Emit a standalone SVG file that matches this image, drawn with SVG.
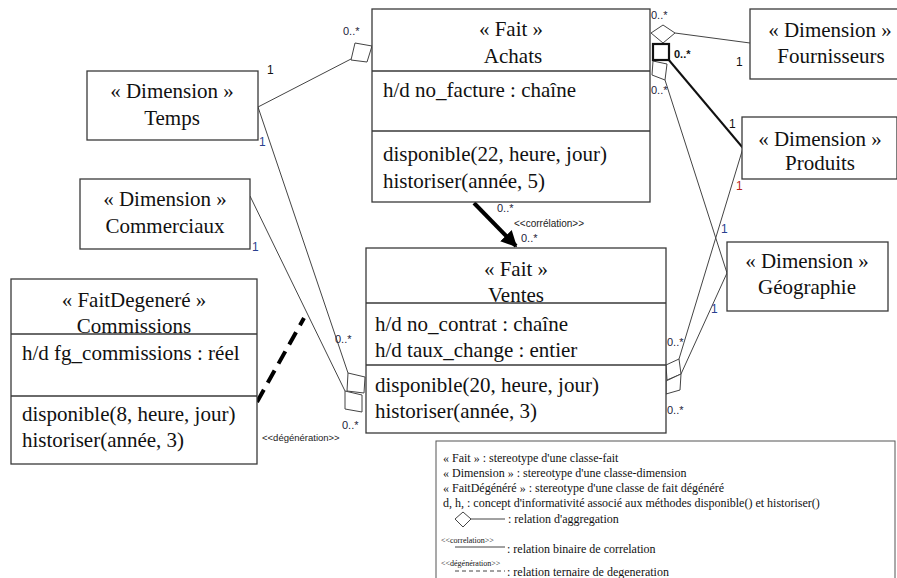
<svg xmlns="http://www.w3.org/2000/svg" width="897" height="578" viewBox="0 0 897 578">
<defs>
<style>
.box{fill:#fff;stroke:#3a3a3a;stroke-width:1.3}
.sep{stroke:#3a3a3a;stroke-width:1.3;fill:none}
.ln{stroke:#444;stroke-width:1;fill:none}
.dia{fill:#fff;stroke:#444;stroke-width:1}
</style>
<marker id="arr" viewBox="0 0 10 10" refX="9" refY="5" markerWidth="4" markerHeight="4" orient="auto" markerUnits="strokeWidth">
<path d="M0,0 L10,5 L0,10 z" fill="#000"/>
</marker>
</defs>
<rect width="897" height="578" fill="#fff"/>

<g id="connectors">
<line class="ln" x1="258" y1="107" x2="351" y2="59"/>
<line class="ln" x1="258" y1="107" x2="348" y2="373"/>
<line class="ln" x1="250" y1="196" x2="345" y2="391"/>
<line class="ln" x1="675" y1="33" x2="750" y2="43"/>
<line class="ln" x1="665" y1="80" x2="727" y2="273"/>
<line class="ln" x1="743" y1="148" x2="679" y2="359"/>
<line class="ln" x1="727" y1="273" x2="681" y2="374"/>
<polygon class="dia" points="351,60 355,43 372,46 367,62"/>
<polygon class="dia" points="348,373 365,377 364,393 347,391"/>
<polygon class="dia" points="345,391 362,395 362,412 345,409"/>
<polygon class="dia" points="651,33 663,25 675,33 663,43"/>
<polygon class="dia" points="653,61 667,64 665,80 652,75"/>
<polygon class="dia" points="666,365 679,359 681,374 667,380"/>
<polygon class="dia" points="666,381 681,374 680,390 666,394"/>
<line x1="668" y1="59" x2="743" y2="148" stroke="#111" stroke-width="2"/>
<rect x="653" y="44" width="16" height="16" fill="#fff" stroke="#111" stroke-width="2.2"/>
<line x1="474" y1="203" x2="516" y2="246" stroke="#000" stroke-width="4" marker-end="url(#arr)"/>
<line x1="257" y1="402" x2="304" y2="318" stroke="#000" stroke-width="4" stroke-dasharray="14,8"/>

<g font-family="Liberation Sans" font-size="11" fill="#22223a">
<text x="343" y="35">0..*</text>
<text x="335" y="343">0..*</text>
<text x="342" y="429">0..*</text>
<text x="651" y="19">0..*</text>
<text x="674" y="58" font-weight="bold" fill="#111">0..*</text>
<text x="651" y="94">0..*</text>
<text x="667" y="346">0..*</text>
<text x="667" y="414">0..*</text>
<text x="497" y="212">0..*</text>
<text x="521" y="242">0..*</text>
<text x="262" y="441" font-size="9.5" fill="#222">&lt;&lt;dégénération&gt;&gt;</text>
<text x="514" y="227" font-size="10" fill="#222">&lt;&lt;corrélation&gt;&gt;</text>
</g>
<g font-family="Liberation Sans" font-size="12" fill="#111">
<text x="267" y="74">1</text>
<text x="259" y="146" fill="#2a3f8f">1</text>
<text x="252" y="251" fill="#2a3f8f">1</text>
<text x="736" y="66">1</text>
<text x="729" y="128">1</text>
<text x="736" y="190" fill="#b8261b">1</text>
<text x="721" y="233" fill="#2a3f8f">1</text>
<text x="711" y="313" fill="#2a3f8f">1</text>
</g>
</g>

<g id="achats" font-family="Liberation Serif" font-size="21" fill="#111">
<rect class="box" x="372" y="9" width="278" height="193"/>
<path class="sep" d="M372,71H650M372,131H650"/>
<text x="511" y="36" text-anchor="middle">« Fait »</text>
<text x="513" y="63" text-anchor="middle">Achats</text>
<text x="383" y="97">h/d no_facture : chaîne</text>
<text x="383" y="161">disponible(22, heure, jour)</text>
<text x="383" y="188">historiser(année, 5)</text>
</g>

<g id="ventes" font-family="Liberation Serif" font-size="21" fill="#111">
<rect class="box" x="366" y="248" width="300" height="185"/>
<path class="sep" d="M366,303H666M366,365H666"/>
<text x="516" y="276" text-anchor="middle">« Fait »</text>
<text x="516" y="302" text-anchor="middle">Ventes</text>
<text x="375" y="331">h/d no_contrat : chaîne</text>
<text x="375" y="357">h/d taux_change : entier</text>
<text x="375" y="392">disponible(20, heure, jour)</text>
<text x="375" y="418">historiser(année, 3)</text>
</g>

<g id="temps" font-family="Liberation Serif" font-size="21" fill="#111" text-anchor="middle">
<rect class="box" x="87" y="71" width="171" height="69"/>
<text x="172" y="98">« Dimension »</text>
<text x="172" y="125">Temps</text>
</g>

<g id="commerciaux" font-family="Liberation Serif" font-size="21" fill="#111" text-anchor="middle">
<rect class="box" x="80" y="179" width="170" height="70"/>
<text x="165" y="206">« Dimension »</text>
<text x="165" y="233">Commerciaux</text>
</g>

<g id="commissions" font-family="Liberation Serif" font-size="21" fill="#111">
<rect class="box" x="11" y="279" width="246" height="185"/>
<path class="sep" d="M11,334H257M11,396H257"/>
<text x="134" y="307" text-anchor="middle">« FaitDegeneré »</text>
<text x="134" y="333" text-anchor="middle">Commissions</text>
<text x="22" y="360">h/d fg_commissions : réel</text>
<text x="22" y="421">disponible(8, heure, jour)</text>
<text x="22" y="447">historiser(année, 3)</text>
</g>

<g id="fournisseurs" font-family="Liberation Serif" font-size="21" fill="#111" text-anchor="middle">
<rect class="box" x="750" y="9" width="162" height="70"/>
<text x="830" y="37">« Dimension »</text>
<text x="831" y="63">Fournisseurs</text>
</g>

<g id="produits" font-family="Liberation Serif" font-size="21" fill="#111" text-anchor="middle">
<rect class="box" x="742" y="117" width="155" height="62"/>
<text x="820" y="146">« Dimension »</text>
<text x="820" y="170">Produits</text>
</g>

<g id="geographie" font-family="Liberation Serif" font-size="21" fill="#111" text-anchor="middle">
<rect class="box" x="727" y="242" width="161" height="69"/>
<text x="807" y="268">« Dimension »</text>
<text x="807" y="294">Géographie</text>
</g>

<g id="legende" font-family="Liberation Serif" font-size="12" fill="#111">
<rect x="436" y="441" width="459" height="145" fill="#fff" stroke="#555" stroke-width="1"/>
<text x="443" y="462">« Fait » : stereotype d'une classe-fait</text>
<text x="443" y="477">« Dimension » : stereotype  d'une classe-dimension</text>
<text x="443" y="492">« FaitDégénéré » : stereotype d'une classe de fait dégénéré</text>
<text x="443" y="507">d, h, : concept d'informativité associé aux méthodes disponible()  et historiser()</text>
<polygon class="dia" points="455,519 463,512 471,519 463,527"/>
<line class="ln" x1="471" y1="519" x2="505" y2="519"/>
<text x="508" y="523">: relation d'aggregation</text>
<text x="441" y="543" font-size="8">&lt;&lt;correlation&gt;&gt;</text>
<line class="ln" x1="455" y1="547" x2="505" y2="547"/>
<text x="507" y="553">: relation binaire de correlation</text>
<text x="441" y="566" font-size="8">&lt;&lt;dégénération&gt;&gt;</text>
<line class="ln" x1="455" y1="571" x2="505" y2="571" stroke-dasharray="4,3"/>
<text x="507" y="576">: relation ternaire de degeneration</text>
</g>
</svg>
